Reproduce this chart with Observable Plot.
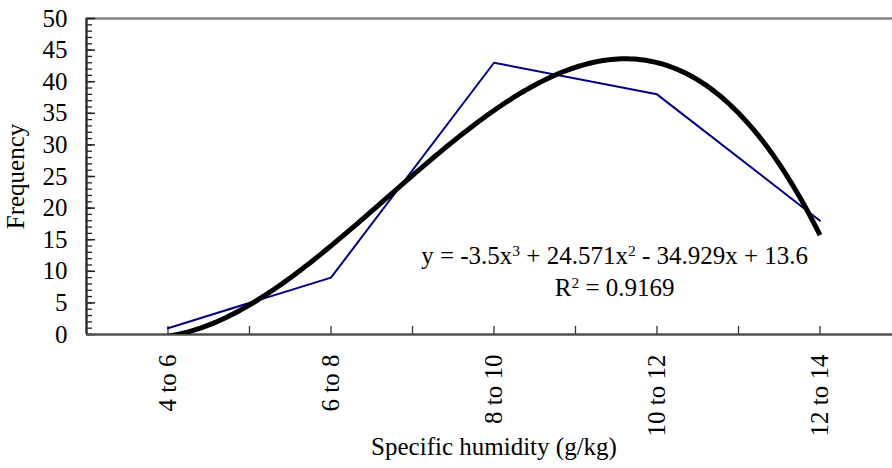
<!DOCTYPE html>
<html><head><meta charset="utf-8">
<script src="https://cdn.jsdelivr.net/npm/d3@7"></script>
<script src="https://cdn.jsdelivr.net/npm/@observablehq/plot@0.6"></script>
<style>
body{margin:0;background:#fff}
#chart{width:892px;height:468px;overflow:hidden;background:#fff}
#chart svg{overflow:hidden}
</style>
</head><body><div id="chart"></div>
<script>
// ---- data ----
const categories = ["4 to 6", "6 to 8", "8 to 10", "10 to 12", "12 to 14"];
const frequency = [1, 9, 43, 38, 18];
// polynomial trendline as printed on the chart: a3*x^3 + a2*x^2 + a1*x + a0
const trendCoefficients = [-3.5, 24.571, -34.929, 13.6];
const yTickValues = [0, 5, 10, 15, 20, 25, 30, 35, 40, 45, 50];
const equationLabel = "y = -3.5x\u00B3 + 24.571x\u00B2 - 34.929x + 13.6";
const r2Label = "R\u00B2 = 0.9169";
const xTitle = "Specific humidity (g/kg)";
const yTitle = "Frequency";

// ---- derived tables ----
const points = frequency.map((v, i) => ({pos: i + 1, value: v, cat: categories[i]}));
const poly = x => trendCoefficients.reduce((acc, c) => acc * x + c, 0);
const trend = d3.range(1, 5.0001, 0.02).map(x => ({pos: x, value: poly(x)}));
const minorY = d3.range(0, 51, 1);
const xTickPos = d3.range(1, 5.51, 0.5);

const font = "'Liberation Serif', 'Times New Roman', serif";
const fs = 25;

const chart = Plot.plot({
  width: 892,
  height: 468,
  marginLeft: 86,
  marginRight: 0,
  marginTop: 18,
  marginBottom: 134,
  style: {fontFamily: font, background: "#fff", overflow: "hidden"},
  x: {type: "linear", domain: [0.5, 5.5], range: [86, 901], axis: null},
  y: {domain: [0, 50], range: [334, 18], axis: null},
  marks: [
    Plot.ruleY([50], {stroke: "#808080", strokeWidth: 2.5}),
    Plot.ruleY(minorY, {y: d => d, x1: 0.5, x2: 0.5, insetRight: -6, stroke: "#222", strokeWidth: 1.3}),
    Plot.ruleY(yTickValues, {y: d => d, x1: 0.5, x2: 0.5, insetRight: -9, stroke: "#222", strokeWidth: 1.5}),
    Plot.ruleX(xTickPos, {x: d => d, y1: 0, y2: 0, insetTop: -8, stroke: "#333", strokeWidth: 1.3}),
    Plot.ruleY([0], {stroke: "#505050", strokeWidth: 2.5}),
    Plot.ruleX([0.5], {stroke: "#303030", strokeWidth: 2.5}),
    Plot.text(yTickValues, {x: 0.5, y: d => d, text: d => String(d), textAnchor: "end", dx: -19, fontSize: fs, fontFamily: font, fill: "#000"}),
    Plot.text(points, {x: "pos", y: 0, text: "cat", rotate: -90, textAnchor: "end", dy: 20, fontSize: fs, fontFamily: font, fill: "#000"}),
    Plot.line(points, {x: "pos", y: "value", stroke: "#000080", strokeWidth: 2}),
    Plot.line(trend, {x: "pos", y: "value", stroke: "#000", strokeWidth: 5, strokeLinecap: "butt", clip: true}),
    Plot.text([equationLabel], {x: 3.74, y: 11.23, text: d => d, textAnchor: "middle", lineAnchor: "bottom", fontSize: fs, fontFamily: font, fill: "#000", className: "sup-text"}),
    Plot.text([r2Label], {x: 3.74, y: 6.17, text: d => d, textAnchor: "middle", lineAnchor: "bottom", fontSize: fs, fontFamily: font, fill: "#000", className: "sup-text"}),
    Plot.text([xTitle], {x: 3, y: 0, text: d => d, textAnchor: "middle", lineAnchor: "bottom", dy: 120, fontSize: fs, fontFamily: font, fill: "#000"}),
    Plot.text([yTitle], {frameAnchor: "left", text: d => d, rotate: -90, textAnchor: "middle", dx: -71, fontSize: fs, fontFamily: font, fill: "#000"})
  ]
});

// render superscript digits as raised, smaller real text
const supMap = {"\u00B2": "2", "\u00B3": "3"};
chart.querySelectorAll("text").forEach(t => {
  const s = t.textContent;
  if (!/[\u00B2\u00B3]/.test(s) || t.querySelector("tspan")) return;
  t.textContent = "";
  const ns = "http://www.w3.org/2000/svg";
  let buf = "";
  const flush = () => { if (buf) { const sp = document.createElementNS(ns, "tspan"); sp.textContent = buf; t.appendChild(sp); buf = ""; } };
  for (const ch of s) {
    if (supMap[ch]) {
      flush();
      const sp = document.createElementNS(ns, "tspan");
      sp.textContent = supMap[ch];
      sp.setAttribute("baseline-shift", "super");
      sp.setAttribute("font-size", "0.62em");
      t.appendChild(sp);
    } else buf += ch;
  }
  flush();
});

document.getElementById("chart").appendChild(chart);
</script>
</body></html>
